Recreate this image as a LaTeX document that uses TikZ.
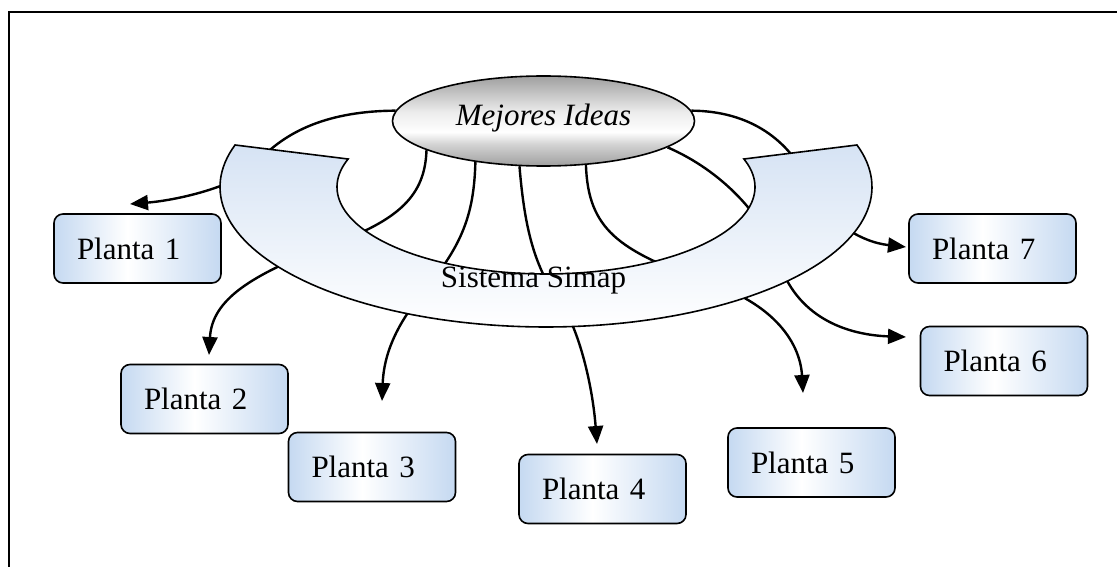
\documentclass[tikz,border=0pt]{standalone}
\usepackage{fontspec}
\setmainfont{Liberation Serif}
\usetikzlibrary{arrows.meta,shapes.geometric}
\definecolor{boxblue}{RGB}{197,217,241}
\definecolor{ringblue}{RGB}{214,227,244}
\pgfdeclarehorizontalshading{boxshade}{100bp}{color(0bp)=(boxblue); color(25bp)=(boxblue); color(47bp)=(white); color(75bp)=(boxblue); color(100bp)=(boxblue)}
\pgfdeclareverticalshading{ideashade}{100bp}{color(0bp)=(gray!75); color(25bp)=(gray!75); color(37bp)=(gray!35); color(44bp)=(white); color(55bp)=(gray!15); color(75bp)=(gray!75); color(100bp)=(gray!75)}
\pgfdeclarelayer{connlayer}
\pgfdeclarelayer{ringlayer}
\pgfsetlayers{connlayer,ringlayer,main}
\begin{document}
\begin{tikzpicture}[x=1pt,y=-1pt,
  font=\fontsize{31}{37}\selectfont,
  plantbox/.style={draw, line width=1.6pt, rounded corners=9pt, shading=boxshade,
    minimum height=69pt, text width=121pt, inner xsep=23pt, inner ysep=0pt, align=left},
  ideabox/.style={ellipse, draw, line width=1.6pt, shading=ideashade,
    minimum width=302pt, minimum height=90pt, inner sep=0pt,
    font=\fontsize{31}{37}\selectfont\itshape, text height=21pt, text depth=12pt},
  link/.style={line width=2.4pt, -{Triangle[length=18pt,width=15pt]}},
  ringstyle/.style={line width=1.6pt, top color=ringblue, bottom color=white}]
\useasboundingbox (0,0) rectangle (1117,567);

% frame
\draw[line width=1.5pt] (9,567) -- (9,12) -- (1117,12);

% central idea
\node[ideabox] (ideas) at (543.5,121) {Mejores Ideas};

% plants
\node[plantbox] (p1) at (137.5,248.5) {Planta 1};
\node[plantbox] (p2) at (204.5,399) {Planta 2};
\node[plantbox] (p3) at (372,467) {Planta 3};
\node[plantbox] (p4) at (602.5,489) {Planta 4};
\node[plantbox] (p5) at (811.5,462.5) {Planta 5};
\node[plantbox] (p6) at (1004,361) {Planta 6};
\node[plantbox] (p7) at (992.5,248.5) {Planta 7};

% arrow tips
\coordinate (t1) at (130,204);
\coordinate (t2) at (209,355);
\coordinate (t3) at (382,401);
\coordinate (t4) at (597,444);
\coordinate (t5) at (803,393);
\coordinate (t6) at (906,337);
\coordinate (t7) at (906,247);

% ring
\begin{pgfonlayer}{ringlayer}
\draw[ringstyle]
  plot[domain=-17.46:197.46, samples=120] ({546+326*cos(\x)},{187+140*sin(\x)})
  -- plot[domain=-198.77:18.77, samples=120] ({546+209*cos(-\x)},{187+87*sin(-\x)})
  -- cycle;
\end{pgfonlayer}
\node[anchor=base] (sis) at (533.5,287) {Sistema Simap};

% connectors
\begin{pgfonlayer}{connlayer}
\draw[link] (ideas.176) .. controls (330,111) and (285,130) .. (255,165)
  .. controls (240,185) and (180,200) .. (t1);
\draw[link] (ideas.194) .. controls (425,195) and (400,220) .. (330,245)
  .. controls (250,275) and (212,300) .. (t2);
\draw[link] (ideas.211) .. controls (474,215) and (462,245) .. (425,290)
  .. controls (400,320) and (384,350) .. (t3);
\draw[link] (ideas.242) .. controls (524,220) and (532,265) .. (560,302)
  .. controls (577,325) and (592,380) .. (t4);
\draw[link] (ideas.314) .. controls (588,230) and (620,250) .. (700,280)
  .. controls (770,300) and (800,340) .. (t5);
\draw[link] (ideas.348) .. controls (720,170) and (765,215) .. (780,265)
  .. controls (800,320) and (850,335) .. (t6);
\draw[link] (ideas.4) .. controls (750,111) and (790,140) .. (810,185)
  .. controls (825,220) and (860,242) .. (t7);
\end{pgfonlayer}
\end{tikzpicture}
\end{document}
